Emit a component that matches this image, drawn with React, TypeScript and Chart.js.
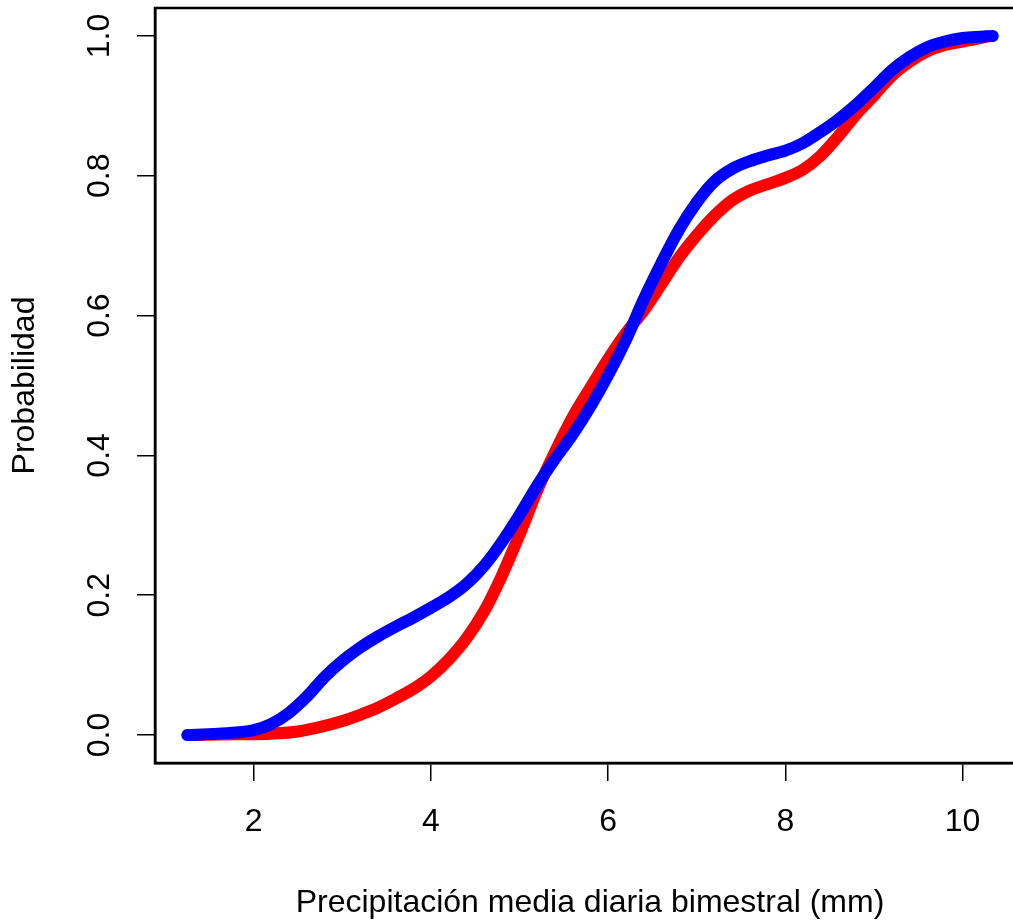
import React, { useEffect, useRef } from "react";
import { Chart, registerables } from "chart.js";

Chart.register(...registerables);

const blueX = [1.25, 1.6, 2.0, 2.2, 2.4, 2.6, 2.8, 3.0, 3.2, 3.4, 3.6, 3.8, 4.0, 4.2, 4.4, 4.6, 4.8, 5.0, 5.2, 5.4, 5.6, 5.8, 6.0, 6.2, 6.4, 6.6, 6.8, 7.0, 7.2, 7.4, 7.6, 7.8, 8.0, 8.2, 8.4, 8.6, 8.8, 9.0, 9.2, 9.4, 9.6, 9.8, 10.0, 10.2, 10.34];
const blueY = [0, 0.002, 0.007, 0.016, 0.032, 0.055, 0.083, 0.106, 0.125, 0.141, 0.155, 0.168, 0.182, 0.197, 0.216, 0.242, 0.276, 0.315, 0.357, 0.395, 0.43, 0.47, 0.515, 0.565, 0.623, 0.675, 0.723, 0.762, 0.792, 0.81, 0.821, 0.829, 0.836, 0.847, 0.863, 0.881, 0.902, 0.926, 0.951, 0.97, 0.984, 0.992, 0.997, 0.999, 1.0];

const redX = [1.3, 1.8, 2.2, 2.5, 2.8, 3.0, 3.2, 3.4, 3.6, 3.8, 4.0, 4.2, 4.4, 4.6, 4.8, 5.0, 5.2, 5.4, 5.6, 5.8, 6.0, 6.2, 6.4, 6.6, 6.8, 7.0, 7.2, 7.4, 7.6, 7.8, 8.0, 8.2, 8.4, 8.6, 8.8, 9.0, 9.2, 9.4, 9.6, 9.8, 10.0, 10.2, 10.3];
const redY = [0, 0.001, 0.002, 0.005, 0.013, 0.02, 0.029, 0.039, 0.052, 0.066, 0.084, 0.108, 0.138, 0.177, 0.228, 0.287, 0.35, 0.405, 0.455, 0.497, 0.538, 0.575, 0.607, 0.645, 0.683, 0.715, 0.743, 0.765, 0.779, 0.788, 0.797, 0.809, 0.829, 0.857, 0.888, 0.915, 0.943, 0.963, 0.978, 0.987, 0.992, 0.997, 1.0];

const xTicks = [2, 4, 6, 8, 10];
const yTicks = [0, 0.2, 0.4, 0.6, 0.8, 1.0];

const xTitle = "Precipitación media diaria bimestral (mm)";
const yTitle = "Probabilidad";

const FONT = "Liberation Sans, Arial, sans-serif";
const FONT_SIZE = 32;

export default function App() {
  const ref = useRef<HTMLCanvasElement | null>(null);

  useEffect(() => {
    if (!ref.current) return;
    const toPts = (xs: number[], ys: number[]) => xs.map((x, i) => ({ x, y: ys[i] }));

    const framePlugin = {
      id: "frame",
      afterDraw(chart: any) {
        const { ctx, chartArea } = chart;
        const ys = chart.scales.y;
        ctx.save();
        ctx.strokeStyle = "#000";
        ctx.lineWidth = 2.5;
        ctx.strokeRect(chartArea.left, chartArea.top, chartArea.right - chartArea.left, chartArea.bottom - chartArea.top);
        ctx.fillStyle = "#000";
        ctx.font = `${FONT_SIZE}px ${FONT}`;
        ctx.textAlign = "center";
        ctx.textBaseline = "middle";
        ys.ticks.forEach((t: any) => {
          const py = ys.getPixelForValue(t.value);
          ctx.save();
          ctx.translate(100, py);
          ctx.rotate(-Math.PI / 2);
          ctx.fillText(Number(t.value).toFixed(1), 0, 0);
          ctx.restore();
        });
        ctx.save();
        ctx.translate(25, (chartArea.top + chartArea.bottom) / 2);
        ctx.rotate(-Math.PI / 2);
        ctx.fillText(yTitle, 0, 0);
        ctx.restore();
        ctx.fillText(xTitle, (chartArea.left + chartArea.right) / 2, 903);
        ctx.restore();
      },
    };

    const chart = new Chart(ref.current, {
      type: "scatter",
      data: {
        datasets: [
          {
            label: "blue",
            data: toPts(blueX, blueY),
            showLine: true,
            borderColor: "#0000FF",
            backgroundColor: "#0000FF",
            borderWidth: 12,
            pointRadius: 0,
            borderCapStyle: "round",
            borderJoinStyle: "round",
            cubicInterpolationMode: "monotone",
          },
          {
            label: "red",
            data: toPts(redX, redY),
            showLine: true,
            borderColor: "#FF0000",
            backgroundColor: "#FF0000",
            borderWidth: 12,
            pointRadius: 0,
            borderCapStyle: "butt",
            borderJoinStyle: "round",
            cubicInterpolationMode: "monotone",
          },
        ],
      },
      options: {
        responsive: false,
        animation: false,
        layout: { padding: { left: 0, top: 8, right: 15, bottom: 0 } },
        plugins: { legend: { display: false }, tooltip: { enabled: false } },
        scales: {
          x: {
            type: "linear",
            min: 0.886,
            max: 10.704,
            afterFit(scale: any) {
              scale.height = 161;
            },
            afterBuildTicks(scale: any) {
              scale.ticks = xTicks.map((v) => ({ value: v }));
            },
            grid: { drawOnChartArea: false, drawTicks: true, tickLength: 18, color: "#000", lineWidth: 1.5 },
            border: { display: true, color: "#000", width: 2.5 },
            ticks: {
              color: "#000",
              padding: 22,
              font: { family: FONT, size: FONT_SIZE },
              callback: (v: any) => String(v),
              maxRotation: 0,
              autoSkip: false,
            },
          },
          y: {
            type: "linear",
            min: -0.04,
            max: 1.04,
            afterFit(scale: any) {
              scale.width = 155;
            },
            afterBuildTicks(scale: any) {
              scale.ticks = yTicks.map((v) => ({ value: v }));
            },
            grid: { drawOnChartArea: false, drawTicks: true, tickLength: 18, color: "#000", lineWidth: 1.5 },
            border: { display: true, color: "#000", width: 2.5 },
            ticks: { display: false },
          },
        },
      },
      plugins: [framePlugin],
    } as any);
    return () => chart.destroy();
  }, []);

  return (
    <div style={{ position: "fixed", left: 0, top: 0, width: 1013, height: 924, overflow: "hidden", background: "#fff" }}>
      <canvas ref={ref} width={1040} height={924} style={{ display: "block", width: 1040, height: 924 }} />
    </div>
  );
}
